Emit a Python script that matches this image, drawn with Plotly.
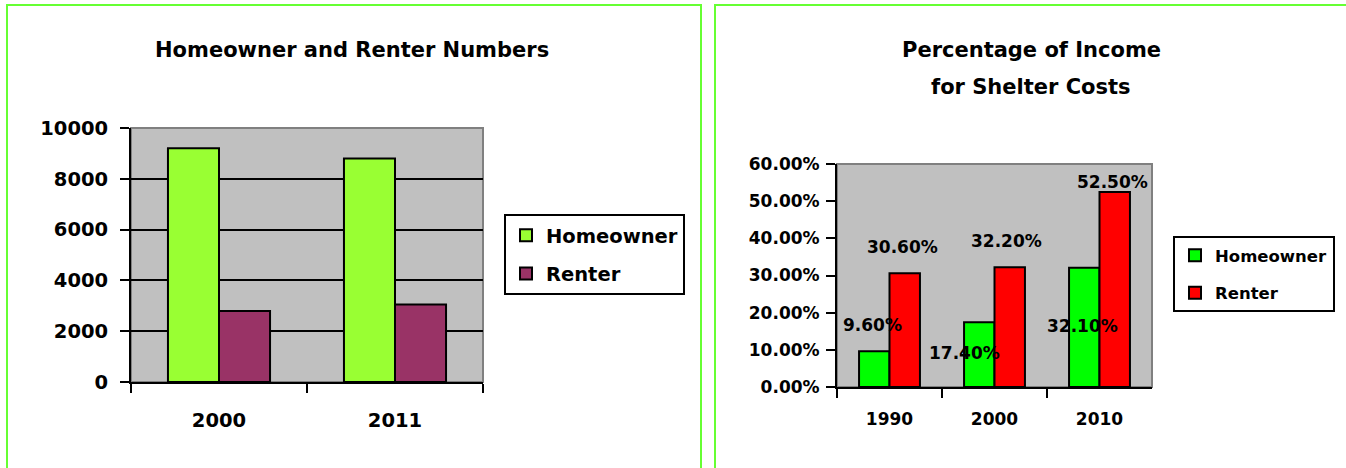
import plotly.graph_objects as go

# ---------------- data ----------------
years_left = ["2000", "2011"]
homeowner_counts = [9200, 8800]
renter_counts = [2800, 3050]

years_right = ["1990", "2000", "2010"]
homeowner_pct = [9.6, 17.4, 32.1]
renter_pct = [30.6, 32.2, 52.5]

# label nudges (px) as placed in the original: (dx, dy-up)
home_label_nudge = [(-2, 26), (-15, -31), (-2, -58)]
rent_label_nudge = [(-2, 26), (-3, 26), (-2, 10)]

W, H = 1346, 468
FONT = "DejaVu Sans"
GREEN_FRAME = "#66FF33"


def px(x):
    return x / W


def py(y):
    return 1 - y / H


fig = go.Figure()

fig.add_trace(go.Bar(
    x=years_left, y=homeowner_counts, name="Homeowner",
    marker=dict(color="#99FF33", line=dict(color="black", width=2)),
    xaxis="x", yaxis="y", legend="legend", legendgroup="h1",
))
fig.add_trace(go.Bar(
    x=years_left, y=renter_counts, name="Renter",
    marker=dict(color="#993366", line=dict(color="black", width=2)),
    xaxis="x", yaxis="y", legend="legend", legendgroup="r1",
))
fig.add_trace(go.Bar(
    x=years_right, y=homeowner_pct, name="Homeowner",
    marker=dict(color="#00FF00", line=dict(color="black", width=2)),
    xaxis="x2", yaxis="y2", legend="legend2", legendgroup="h2",
))
fig.add_trace(go.Bar(
    x=years_right, y=renter_pct, name="Renter",
    marker=dict(color="#FF0000", line=dict(color="black", width=2)),
    xaxis="x2", yaxis="y2", legend="legend2", legendgroup="r2",
))

# bar geometry in the right chart for label offsets
cat_w = (1152 - 837) / len(years_right)
bar_w = cat_w * (1 - 0.42) / 2

label_font = dict(family=FONT, size=17, color="black", weight="bold")
annotations = []
for i, yr in enumerate(years_right):
    dx, dy = home_label_nudge[i]
    annotations.append(dict(
        x=i, y=homeowner_pct[i], xref="x2", yref="y2",
        text=f"{homeowner_pct[i]:.2f}%", showarrow=False,
        xshift=-bar_w / 2 + dx, yshift=dy, yanchor="middle",
        font=label_font,
    ))
    dx, dy = rent_label_nudge[i]
    annotations.append(dict(
        x=i, y=renter_pct[i], xref="x2", yref="y2",
        text=f"{renter_pct[i]:.2f}%", showarrow=False,
        xshift=bar_w / 2 + dx, yshift=dy, yanchor="middle",
        font=label_font,
    ))

# titles
title_font = dict(family=FONT, size=21, color="black", weight="bold")
annotations.append(dict(
    x=px(352), y=py(50), xref="paper", yref="paper", showarrow=False,
    text="Homeowner and Renter Numbers", xanchor="center", yanchor="middle",
    font=title_font,
))
annotations.append(dict(
    x=px(1031), y=py(50), xref="paper", yref="paper", showarrow=False,
    text="Percentage of Income", xanchor="center", yanchor="middle",
    font=title_font,
))
annotations.append(dict(
    x=px(1031), y=py(87), xref="paper", yref="paper", showarrow=False,
    text="for Shelter Costs", xanchor="center", yanchor="middle",
    font=title_font,
))

shapes = [
    # panel frames
    dict(type="line", xref="paper", yref="paper", x0=px(7), x1=px(7), y0=py(5), y1=py(470),
         line=dict(color=GREEN_FRAME, width=2)),
    dict(type="line", xref="paper", yref="paper", x0=px(6), x1=px(702), y0=py(5), y1=py(5),
         line=dict(color=GREEN_FRAME, width=2)),
    dict(type="line", xref="paper", yref="paper", x0=px(701), x1=px(701), y0=py(5), y1=py(470),
         line=dict(color=GREEN_FRAME, width=2)),
    dict(type="line", xref="paper", yref="paper", x0=px(715), x1=px(715), y0=py(5), y1=py(470),
         line=dict(color=GREEN_FRAME, width=2)),
    dict(type="line", xref="paper", yref="paper", x0=px(714), x1=px(1350), y0=py(5), y1=py(5),
         line=dict(color=GREEN_FRAME, width=2)),
    # plot area grey top/right borders
    dict(type="rect", xref="x domain", yref="y domain", x0=0, x1=1, y0=0, y1=1,
         line=dict(color="#808080", width=2), layer="below"),
    dict(type="rect", xref="x2 domain", yref="y2 domain", x0=0, x1=1, y0=0, y1=1,
         line=dict(color="#808080", width=2), layer="below"),
]

tickfont_l = dict(family=FONT, size=19.5, color="black", weight="bold")
tickfont_r = dict(family=FONT, size=17, color="black", weight="bold")

fig.update_layout(
    width=W, height=H,
    margin=dict(l=0, r=0, t=0, b=0, autoexpand=False),
    paper_bgcolor="white",
    plot_bgcolor="#C0C0C0",
    barmode="group",
    bargap=0.42,
    bargroupgap=0,
    showlegend=True,
    font=dict(family=FONT, color="black"),
    xaxis=dict(domain=[px(131), px(483)], anchor="y", type="category", automargin=False,
               range=[-0.5, len(years_left) - 0.5],
               showgrid=False, tickangle=0,
               showline=True, linecolor="black", linewidth=2,
               ticks="outside", tickson="boundaries", ticklen=9, tickwidth=2, tickcolor="black",
               tickfont=tickfont_l, ticklabelstandoff=20),
    yaxis=dict(domain=[py(382), py(128)], anchor="x", range=[0, 10000], dtick=2000,
               tickformat="d", automargin=False,
               showgrid=True, gridcolor="black", gridwidth=2, zeroline=False,
               showline=True, linecolor="black", linewidth=2,
               ticks="outside", ticklen=9, tickwidth=2, tickcolor="black",
               tickfont=tickfont_l, ticklabelstandoff=8),
    xaxis2=dict(domain=[px(837), px(1152)], anchor="y2", type="category", automargin=False,
                range=[-0.5, len(years_right) - 0.5],
                showgrid=False, tickangle=0,
                showline=True, linecolor="black", linewidth=2,
                ticks="outside", tickson="boundaries", ticklen=9, tickwidth=2, tickcolor="black",
                tickfont=tickfont_r, ticklabelstandoff=16),
    yaxis2=dict(domain=[py(387), py(164)], anchor="x2", range=[0, 60], dtick=10,
                tickformat=".2f", ticksuffix="%", automargin=False,
                showgrid=False, zeroline=False,
                showline=True, linecolor="black", linewidth=2,
                ticks="outside", ticklen=9, tickwidth=2, tickcolor="black",
                tickfont=tickfont_r, ticklabelstandoff=3),
    legend=dict(x=px(504), y=py(214), xanchor="left", yanchor="top",
                bgcolor="white", bordercolor="black", borderwidth=2,
                font=dict(family=FONT, size=19.5, color="black", weight="bold"),
                tracegroupgap=10, traceorder="grouped"),
    legend2=dict(x=px(1173), y=py(236), xanchor="left", yanchor="top",
                 bgcolor="white", bordercolor="black", borderwidth=2,
                 font=dict(family=FONT, size=16.5, color="black", weight="bold"),
                 tracegroupgap=13, traceorder="grouped"),
    annotations=annotations,
    shapes=shapes,
)

fig.write_html("out.html", config={"displayModeBar": False},
               post_script="document.body.style.margin='0px';")
